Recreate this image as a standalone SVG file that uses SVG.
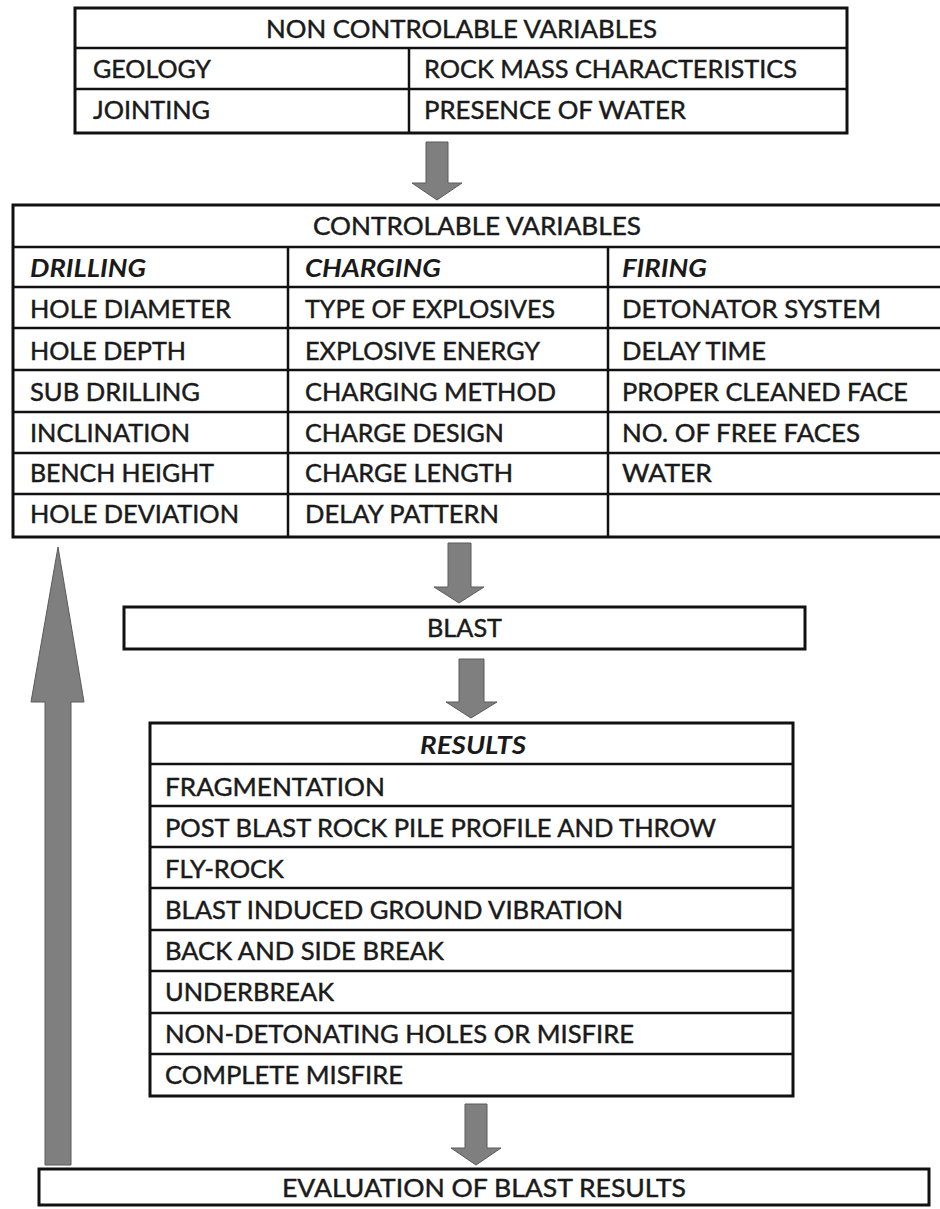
<svg xmlns="http://www.w3.org/2000/svg" width="940" height="1209" viewBox="0 0 940 1209">
<style>
.box{fill:#fff;stroke:#111;stroke-width:3}
.ln{stroke:#111;stroke-width:2.5}
.t,.h{font-family:Lato,"Open Sans",sans-serif;font-size:25.5px;fill:#1a1a1a;stroke:#1a1a1a;stroke-width:0.45}
.i{font-family:Lato,"Open Sans",sans-serif;font-size:25.5px;font-style:italic;font-weight:bold;fill:#1a1a1a}
.ar{fill:#7f7f7f;stroke:#5a5a5a;stroke-width:1}
</style>
<rect width="940" height="1209" fill="#fff"/>
<g id="non-controlable">
<rect class="box" x="75" y="8" width="772" height="125"/>
<line class="ln" x1="75" y1="48" x2="847" y2="48"/>
<line class="ln" x1="75" y1="89" x2="847" y2="89"/>
<line class="ln" x1="409" y1="48" x2="409" y2="133"/>
<text class="h" x="266" y="38" textLength="391" lengthAdjust="spacingAndGlyphs">NON CONTROLABLE VARIABLES</text>
<text class="t" x="93" y="78" textLength="118" lengthAdjust="spacingAndGlyphs">GEOLOGY</text>
<text class="t" x="424" y="78" textLength="373" lengthAdjust="spacingAndGlyphs">ROCK MASS CHARACTERISTICS</text>
<text class="t" x="93" y="119" textLength="117" lengthAdjust="spacingAndGlyphs">JOINTING</text>
<text class="t" x="424" y="119" textLength="262" lengthAdjust="spacingAndGlyphs">PRESENCE OF WATER</text>
</g>
<g id="controlable">
<rect class="box" x="13" y="205" width="935" height="332"/>
<line class="ln" x1="13" y1="247" x2="940" y2="247"/>
<line class="ln" x1="13" y1="287" x2="940" y2="287"/>
<line class="ln" x1="13" y1="328" x2="940" y2="328"/>
<line class="ln" x1="13" y1="370" x2="940" y2="370"/>
<line class="ln" x1="13" y1="412" x2="940" y2="412"/>
<line class="ln" x1="13" y1="453" x2="940" y2="453"/>
<line class="ln" x1="13" y1="494" x2="940" y2="494"/>
<line class="ln" x1="288" y1="247" x2="288" y2="537"/>
<line class="ln" x1="608" y1="247" x2="608" y2="537"/>
<text class="h" x="313" y="235" textLength="328" lengthAdjust="spacingAndGlyphs">CONTROLABLE VARIABLES</text>
<text class="i" x="30" y="277" textLength="116" lengthAdjust="spacingAndGlyphs">DRILLING</text>
<text class="i" x="305" y="277" textLength="136" lengthAdjust="spacingAndGlyphs">CHARGING</text>
<text class="i" x="622" y="277" textLength="85" lengthAdjust="spacingAndGlyphs">FIRING</text>
<text class="t" x="30" y="318" textLength="201" lengthAdjust="spacingAndGlyphs">HOLE DIAMETER</text>
<text class="t" x="305" y="318" textLength="250" lengthAdjust="spacingAndGlyphs">TYPE OF EXPLOSIVES</text>
<text class="t" x="622" y="318" textLength="259" lengthAdjust="spacingAndGlyphs">DETONATOR SYSTEM</text>
<text class="t" x="30" y="360" textLength="156" lengthAdjust="spacingAndGlyphs">HOLE DEPTH</text>
<text class="t" x="305" y="360" textLength="235" lengthAdjust="spacingAndGlyphs">EXPLOSIVE ENERGY</text>
<text class="t" x="622" y="360" textLength="144" lengthAdjust="spacingAndGlyphs">DELAY TIME</text>
<text class="t" x="30" y="401" textLength="170" lengthAdjust="spacingAndGlyphs">SUB DRILLING</text>
<text class="t" x="305" y="401" textLength="251" lengthAdjust="spacingAndGlyphs">CHARGING METHOD</text>
<text class="t" x="622" y="401" textLength="286" lengthAdjust="spacingAndGlyphs">PROPER CLEANED FACE</text>
<text class="t" x="30" y="442" textLength="160" lengthAdjust="spacingAndGlyphs">INCLINATION</text>
<text class="t" x="305" y="442" textLength="199" lengthAdjust="spacingAndGlyphs">CHARGE DESIGN</text>
<text class="t" x="622" y="442" textLength="238" lengthAdjust="spacingAndGlyphs">NO. OF FREE FACES</text>
<text class="t" x="30" y="482" textLength="184" lengthAdjust="spacingAndGlyphs">BENCH HEIGHT</text>
<text class="t" x="305" y="482" textLength="208" lengthAdjust="spacingAndGlyphs">CHARGE LENGTH</text>
<text class="t" x="622" y="482" textLength="90" lengthAdjust="spacingAndGlyphs">WATER</text>
<text class="t" x="30" y="523" textLength="209" lengthAdjust="spacingAndGlyphs">HOLE DEVIATION</text>
<text class="t" x="305" y="523" textLength="194" lengthAdjust="spacingAndGlyphs">DELAY PATTERN</text>
</g>
<g id="blast">
<rect class="box" x="124" y="607" width="681" height="42"/>
<text class="h" x="427" y="637" textLength="75" lengthAdjust="spacingAndGlyphs">BLAST</text>
</g>
<g id="results">
<rect class="box" x="150" y="723" width="643" height="373"/>
<line class="ln" x1="150" y1="764" x2="793" y2="764"/>
<line class="ln" x1="150" y1="806" x2="793" y2="806"/>
<line class="ln" x1="150" y1="847" x2="793" y2="847"/>
<line class="ln" x1="150" y1="888" x2="793" y2="888"/>
<line class="ln" x1="150" y1="930" x2="793" y2="930"/>
<line class="ln" x1="150" y1="971" x2="793" y2="971"/>
<line class="ln" x1="150" y1="1013" x2="793" y2="1013"/>
<line class="ln" x1="150" y1="1054" x2="793" y2="1054"/>
<text class="i" x="420" y="754" textLength="106" lengthAdjust="spacingAndGlyphs">RESULTS</text>
<text class="t" x="165" y="796" textLength="220" lengthAdjust="spacingAndGlyphs">FRAGMENTATION</text>
<text class="t" x="165" y="837" textLength="551" lengthAdjust="spacingAndGlyphs">POST BLAST ROCK PILE PROFILE AND THROW</text>
<text class="t" x="165" y="878" textLength="119" lengthAdjust="spacingAndGlyphs">FLY-ROCK</text>
<text class="t" x="165" y="919" textLength="458" lengthAdjust="spacingAndGlyphs">BLAST INDUCED GROUND VIBRATION</text>
<text class="t" x="165" y="960" textLength="279" lengthAdjust="spacingAndGlyphs">BACK AND SIDE BREAK</text>
<text class="t" x="165" y="1001" textLength="169" lengthAdjust="spacingAndGlyphs">UNDERBREAK</text>
<text class="t" x="165" y="1043" textLength="469" lengthAdjust="spacingAndGlyphs">NON-DETONATING HOLES OR MISFIRE</text>
<text class="t" x="165" y="1084" textLength="238" lengthAdjust="spacingAndGlyphs">COMPLETE MISFIRE</text>
</g>
<g id="evaluation">
<rect class="box" x="39" y="1169" width="890" height="36"/>
<text class="h" x="282" y="1197" textLength="404" lengthAdjust="spacingAndGlyphs">EVALUATION OF BLAST RESULTS</text>
</g>
<g id="connectors">
<polygon class="ar" points="426,142 448,142 448,183 462,183 437,200 412,183 426,183"/>
<polygon class="ar" points="448,543 471,543 471,587 484,587 459,603 434,587 448,587"/>
<polygon class="ar" points="459,659 484,659 484,702 497,702 471,718 446,702 459,702"/>
<polygon class="ar" points="465,1104 487,1104 487,1148 501,1148 476,1165 451,1148 465,1148"/>
<polygon class="ar" points="45,1165 71,1165 71,702 84,702 58,547 31,702 45,702"/>
</g>
</svg>
